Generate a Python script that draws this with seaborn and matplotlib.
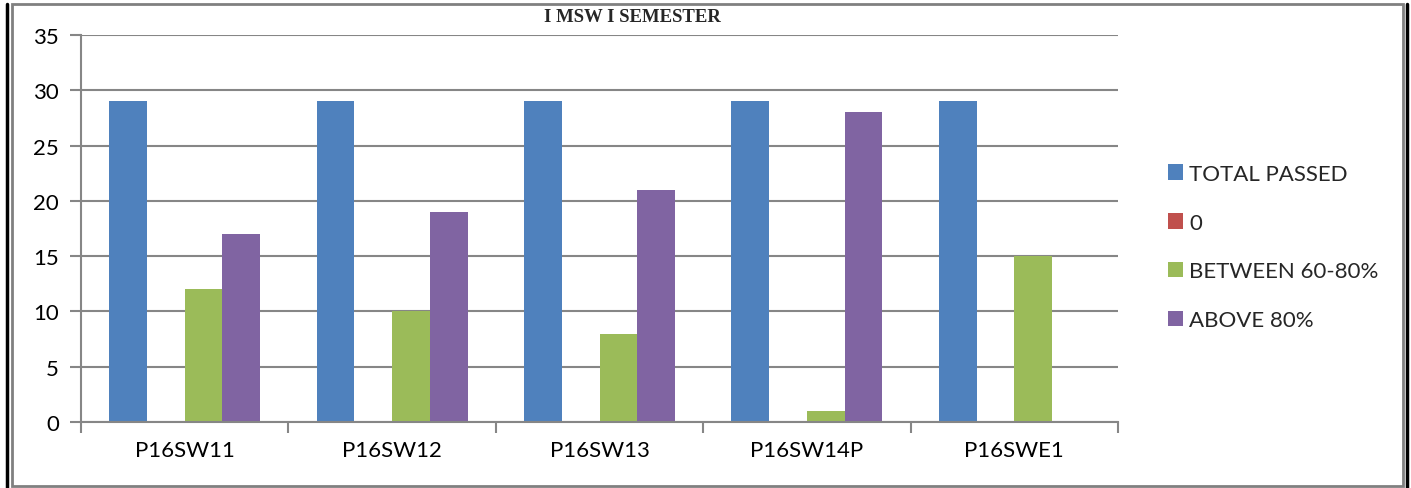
import matplotlib
matplotlib.use("Agg")
import matplotlib.pyplot as plt
import seaborn as sns
import pandas as pd
from matplotlib.lines import Line2D
from matplotlib.patches import Rectangle

categories = ["P16SW11", "P16SW12", "P16SW13", "P16SW14P", "P16SWE1"]
series_names = ["TOTAL PASSED", "0", "BETWEEN 60-80%", "ABOVE 80%"]
total_passed = [29, 29, 29, 29, 29]
zero_series = [0, 0, 0, 0, 0]
between_60_80 = [12, 10, 8, 1, 15]
above_80 = [17, 19, 21, 28, 0]
colors = ["#4F81BD", "#C0504D", "#9BBB59", "#8064A2"]
title = "I MSW I SEMESTER"

rows = []
for name, vals in zip(series_names, [total_passed, zero_series, between_60_80, above_80]):
    for c, v in zip(categories, vals):
        rows.append({"cat": c, "series": name, "value": v})
df = pd.DataFrame(rows)

sns.set_theme(style="white")
plt.rcParams["font.family"] = ["Lato", "DejaVu Sans"]

W, H = 1411, 489
fig = plt.figure(figsize=(W / 100, H / 100), dpi=100)
ax = fig.add_axes([81 / W, 1 - 423 / H, (1118 - 81) / W, (423 - 36) / H])

sns.barplot(data=df, x="cat", y="value", hue="series", order=categories,
            hue_order=series_names, palette=colors, saturation=1,
            width=0.728, ax=ax, legend=False, linewidth=0)

ax.set_xlim(-0.5, len(categories) - 0.5)
ax.set_ylim(0, 35)
ax.set_yticks(range(0, 36, 5))
ax.yaxis.grid(True, color="#868686", linewidth=1.5)
ax.set_axisbelow(True)
for s in ["top", "right"]:
    ax.spines[s].set_visible(False)
for s in ["left", "bottom"]:
    ax.spines[s].set_color("#868686")
    ax.spines[s].set_linewidth(1.5)

ax.set_xticks([i - 0.5 for i in range(len(categories) + 1)])
ax.set_xticklabels([])
ax.set_xticks(range(len(categories)), minor=True)
ax.set_xticklabels(categories, minor=True)
ax.tick_params(axis="x", which="major", direction="out", length=8, width=1.5, color="#868686", bottom=True)
ax.tick_params(axis="x", which="minor", length=0, pad=13, labelsize=16, labelcolor="black")
ax.tick_params(axis="y", direction="out", length=8, width=1.5, color="#868686", left=True,
               labelsize=16, labelcolor="black", pad=8)
ax.set_xlabel("")
ax.set_ylabel("")

handles = [Rectangle((0, 0), 1, 1, facecolor=c, edgecolor="none") for c in colors]
fig.legend(handles, series_names, loc="center left", bbox_to_anchor=(1159 / W, 1 - 248 / H),
           frameon=False, fontsize=16, handlelength=0.7, handleheight=0.7,
           handletextpad=0.25, labelspacing=1.3, borderaxespad=0)

fig.text(632 / W, 1 - 18 / H, title, ha="center", va="center",
         fontfamily="Liberation Serif", fontweight="bold", fontsize=13.5)

# borders
fig.add_artist(Rectangle((12 / W, 1 - 487 / H), (1403 - 12) / W, (487 - 5) / H,
                         transform=fig.transFigure, fill=False, edgecolor="#808080", linewidth=2))
fig.add_artist(Line2D([7 / W, 7 / W], [1 - 489 / H, 1 - 5 / H], transform=fig.transFigure,
                      color="black", linewidth=2.5))
fig.add_artist(Line2D([1407 / W, 1407 / W], [1 - 489 / H, 1 - 5 / H], transform=fig.transFigure,
                      color="black", linewidth=2.5))

fig.savefig("out.png", dpi=100)
